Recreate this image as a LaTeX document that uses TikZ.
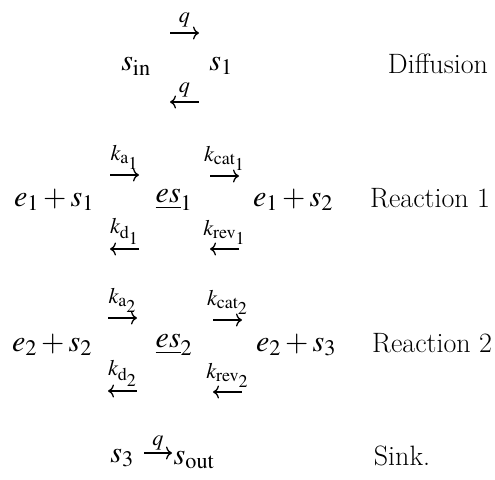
\documentclass[tikz,border=0pt]{standalone}
\usepackage{mathptmx}
\usetikzlibrary{arrows.meta}

\begin{document}
\begin{tikzpicture}[x=1pt,y=-1pt,
    sp/.style={inner sep=0pt,font=\fontsize{30}{36}\selectfont},
    nm/.style={inner sep=0pt,font=\fontsize{28}{34}\selectfont},
    rx/.style={line width=1.3pt,-{To[length=6pt,width=13pt]}},
    lx/.style={line width=1.3pt,{To[length=6pt,width=13pt]}-}]
  \useasboundingbox (0,0) rectangle (495,479);
  % diffusion
  \node[sp] (sin) at (136,66) {$s_{\mathrm{in}}$};
  \node[sp] (s1) at (221,66) {$s_1$};
  \coordinate (q1a) at (170,33); \coordinate (q1b) at (199,33);
  \coordinate (q2a) at (170,102); \coordinate (q2b) at (199,102);
  \draw[rx] (q1a) -- (q1b) node[sp,midway,above=5pt] {$\scriptstyle q$};
  \draw[lx] (q2a) -- (q2b) node[sp,midway,above=4pt] {$\scriptstyle q$};
  \node[nm] (dif) at (438,64) {Diffusion};
  % reaction 1
  \node[sp] (l1) at (54,200) {$e_1+s_1$};
  \node[sp] (c1) at (174,200) {$\underline{es}_1$};
  \node[sp] (r1) at (293,200) {$e_1+s_2$};
  \coordinate (a1) at (110,175); \coordinate (b1) at (139,175);
  \coordinate (a2) at (210,176); \coordinate (b2) at (239,176);
  \coordinate (a3) at (110,249); \coordinate (b3) at (139,249);
  \coordinate (a4) at (210,249); \coordinate (b4) at (239,249);
  \draw[rx] (a1) -- (b1) node[sp,midway,above=5pt] {$\scriptstyle k_{\mathrm{a}_1}$};
  \draw[rx] (a2) -- (b2) node[sp,midway,above=5pt] {$\scriptstyle k_{\mathrm{cat}_1}$};
  \draw[lx] (a3) -- (b3) node[sp,midway,above=4pt] {$\scriptstyle k_{\mathrm{d}_1}$};
  \draw[lx] (a4) -- (b4) node[sp,midway,above=4pt] {$\scriptstyle k_{\mathrm{rev}_1}$};
  \node[nm] (rn1) at (430,198) {Reaction 1};
  % reaction 2
  \node[sp] (l2) at (52,345) {$e_2+s_2$};
  \node[sp] (c2) at (174,345) {$\underline{es}_2$};
  \node[sp] (r2) at (296,345) {$e_2+s_3$};
  \coordinate (a5) at (108,318); \coordinate (b5) at (137,318);
  \coordinate (a6) at (213,320); \coordinate (b6) at (242,320);
  \coordinate (a7) at (108,391); \coordinate (b7) at (137,391);
  \coordinate (a8) at (213,392); \coordinate (b8) at (242,392);
  \draw[rx] (a5) -- (b5) node[sp,midway,above=5pt] {$\scriptstyle k_{\mathrm{a}_2}$};
  \draw[rx] (a6) -- (b6) node[sp,midway,above=5pt] {$\scriptstyle k_{\mathrm{cat}_2}$};
  \draw[lx] (a7) -- (b7) node[sp,midway,above=4pt] {$\scriptstyle k_{\mathrm{d}_2}$};
  \draw[lx] (a8) -- (b8) node[sp,midway,above=4pt] {$\scriptstyle k_{\mathrm{rev}_2}$};
  \node[nm] (rn2) at (432,343) {Reaction 2};
  % sink
  \node[sp] (s3) at (122,458) {$s_3$};
  \node[sp] (sout) at (194,460) {$s_{\mathrm{out}}$};
  \coordinate (q3a) at (144,453); \coordinate (q3b) at (172,453);
  \draw[rx] (q3a) -- (q3b) node[sp,midway,above=2pt] {$\scriptstyle q$};
  \node[nm] (snk) at (402,456) {Sink.};
\end{tikzpicture}
\end{document}
